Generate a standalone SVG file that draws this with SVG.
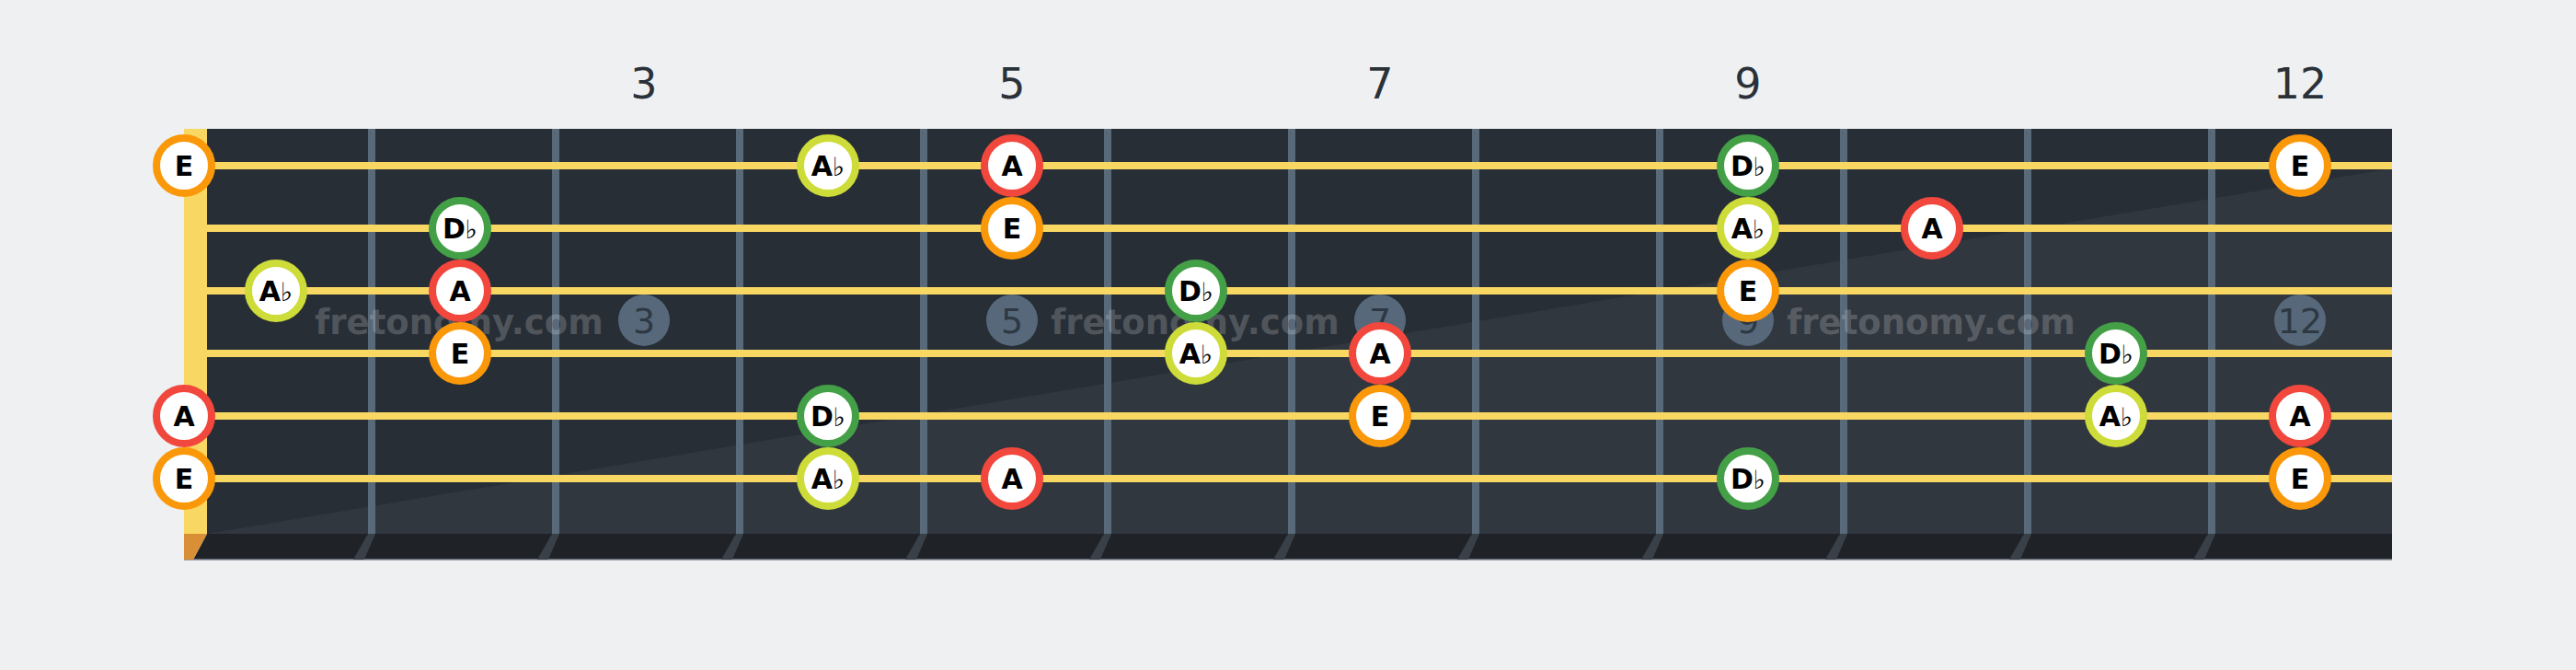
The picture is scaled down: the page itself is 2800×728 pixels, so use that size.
<svg xmlns="http://www.w3.org/2000/svg" width="2800" height="728" viewBox="0 0 2800 728">
<style>
.fnum{font-family:"DejaVu Sans","Liberation Sans",sans-serif;font-size:46px;fill:#2b3138;text-anchor:middle}
.fret{fill:#586a7a}
.fretb{fill:#3a4048}
.str{fill:#f8d862}
.inlay{fill:#56687a}
.inl{font-family:"DejaVu Sans","Liberation Sans",sans-serif;font-size:38px;fill:#2e3843;text-anchor:middle}
.wm{font-family:"DejaVu Sans","Liberation Sans",sans-serif;font-weight:bold;font-size:37px;fill:#ffffff;fill-opacity:0.2;text-anchor:middle}
.ring{fill:#ffffff;stroke-width:8}
.E{stroke:#fb980a}.A{stroke:#f1473d}.Db{stroke:#44a047}.Ab{stroke:#cddc39}
.lbl{font-family:"DejaVu Sans","Liberation Sans",sans-serif;font-weight:bold;font-size:30px;fill:#000;text-anchor:middle}
.fl{font-weight:normal;font-size:28px}
</style>
<defs>
<circle id="dot" r="30"/>
</defs>
<rect width="2800" height="728" fill="#eef0f2"/>
<g id="fret-numbers">
<text class="fnum" x="700" y="107">3</text>
<text class="fnum" x="1100" y="107">5</text>
<text class="fnum" x="1500" y="107">7</text>
<text class="fnum" x="1900" y="107">9</text>
<text class="fnum" x="2500" y="107">12</text>
</g>
<g id="fretboard">
<rect x="225" y="140" width="2375" height="440" fill="#272e36"/>
<polygon points="225,580 2600,183 2600,580" fill="#31373f"/>
<polygon points="225,580 2600,580 2600,608 210,608" fill="#1f2327"/>
<line x1="200" y1="608" x2="2600" y2="608" stroke="#7c8590" stroke-width="1.5"/>
<rect x="200" y="140" width="25" height="440" fill="#f8d862"/>
<polygon points="200,580 225,580 210,608 200,608" fill="#d98f35"/>
</g>
<g id="frets">
<rect class="fret" x="400" y="140" width="8" height="440"/><polygon class="fretb" points="400,580 408,580 396,608 384,608"/>
<rect class="fret" x="600" y="140" width="8" height="440"/><polygon class="fretb" points="600,580 608,580 596,608 584,608"/>
<rect class="fret" x="800" y="140" width="8" height="440"/><polygon class="fretb" points="800,580 808,580 796,608 784,608"/>
<rect class="fret" x="1000" y="140" width="8" height="440"/><polygon class="fretb" points="1000,580 1008,580 996,608 984,608"/>
<rect class="fret" x="1200" y="140" width="8" height="440"/><polygon class="fretb" points="1200,580 1208,580 1196,608 1184,608"/>
<rect class="fret" x="1400" y="140" width="8" height="440"/><polygon class="fretb" points="1400,580 1408,580 1396,608 1384,608"/>
<rect class="fret" x="1600" y="140" width="8" height="440"/><polygon class="fretb" points="1600,580 1608,580 1596,608 1584,608"/>
<rect class="fret" x="1800" y="140" width="8" height="440"/><polygon class="fretb" points="1800,580 1808,580 1796,608 1784,608"/>
<rect class="fret" x="2000" y="140" width="8" height="440"/><polygon class="fretb" points="2000,580 2008,580 1996,608 1984,608"/>
<rect class="fret" x="2200" y="140" width="8" height="440"/><polygon class="fretb" points="2200,580 2208,580 2196,608 2184,608"/>
<rect class="fret" x="2400" y="140" width="8" height="440"/><polygon class="fretb" points="2400,580 2408,580 2396,608 2384,608"/>
</g>
<g id="inlays">
<circle class="inlay" cx="700" cy="348" r="28"/><text class="inl" x="700" y="362">3</text>
<circle class="inlay" cx="1100" cy="348" r="28"/><text class="inl" x="1100" y="362">5</text>
<circle class="inlay" cx="1500" cy="348" r="28"/><text class="inl" x="1500" y="362">7</text>
<circle class="inlay" cx="1900" cy="348" r="28"/><text class="inl" x="1900" y="362">9</text>
<circle class="inlay" cx="2500" cy="348" r="28"/><text class="inl" x="2500" y="362">12</text>
</g>
<g id="watermarks">
<text class="wm" x="499" y="363">fretonomy.com</text>
<text class="wm" x="1299" y="363">fretonomy.com</text>
<text class="wm" x="2099" y="363">fretonomy.com</text>
</g>
<g id="strings">
<rect class="str" x="225" y="176" width="2375" height="8"/>
<rect class="str" x="225" y="244" width="2375" height="8"/>
<rect class="str" x="225" y="312" width="2375" height="8"/>
<rect class="str" x="225" y="380" width="2375" height="8"/>
<rect class="str" x="225" y="448" width="2375" height="8"/>
<rect class="str" x="225" y="516" width="2375" height="8"/>
</g>
<g id="notes">
<g id="n1-0"><use href="#dot" class="ring E" x="200" y="180"/><text class="lbl" x="200" y="191">E</text></g>
<g id="n1-4"><use href="#dot" class="ring Ab" x="900" y="180"/><text class="lbl" x="900" y="191">A<tspan class="fl">♭</tspan></text></g>
<g id="n1-5"><use href="#dot" class="ring A" x="1100" y="180"/><text class="lbl" x="1100" y="191">A</text></g>
<g id="n1-9"><use href="#dot" class="ring Db" x="1900" y="180"/><text class="lbl" x="1900" y="191">D<tspan class="fl">♭</tspan></text></g>
<g id="n1-12"><use href="#dot" class="ring E" x="2500" y="180"/><text class="lbl" x="2500" y="191">E</text></g>
<g id="n2-2"><use href="#dot" class="ring Db" x="500" y="248"/><text class="lbl" x="500" y="259">D<tspan class="fl">♭</tspan></text></g>
<g id="n2-5"><use href="#dot" class="ring E" x="1100" y="248"/><text class="lbl" x="1100" y="259">E</text></g>
<g id="n2-9"><use href="#dot" class="ring Ab" x="1900" y="248"/><text class="lbl" x="1900" y="259">A<tspan class="fl">♭</tspan></text></g>
<g id="n2-10"><use href="#dot" class="ring A" x="2100" y="248"/><text class="lbl" x="2100" y="259">A</text></g>
<g id="n3-1"><use href="#dot" class="ring Ab" x="300" y="316"/><text class="lbl" x="300" y="327">A<tspan class="fl">♭</tspan></text></g>
<g id="n3-2"><use href="#dot" class="ring A" x="500" y="316"/><text class="lbl" x="500" y="327">A</text></g>
<g id="n3-6"><use href="#dot" class="ring Db" x="1300" y="316"/><text class="lbl" x="1300" y="327">D<tspan class="fl">♭</tspan></text></g>
<g id="n3-9"><use href="#dot" class="ring E" x="1900" y="316"/><text class="lbl" x="1900" y="327">E</text></g>
<g id="n4-2"><use href="#dot" class="ring E" x="500" y="384"/><text class="lbl" x="500" y="395">E</text></g>
<g id="n4-6"><use href="#dot" class="ring Ab" x="1300" y="384"/><text class="lbl" x="1300" y="395">A<tspan class="fl">♭</tspan></text></g>
<g id="n4-7"><use href="#dot" class="ring A" x="1500" y="384"/><text class="lbl" x="1500" y="395">A</text></g>
<g id="n4-11"><use href="#dot" class="ring Db" x="2300" y="384"/><text class="lbl" x="2300" y="395">D<tspan class="fl">♭</tspan></text></g>
<g id="n5-0"><use href="#dot" class="ring A" x="200" y="452"/><text class="lbl" x="200" y="463">A</text></g>
<g id="n5-4"><use href="#dot" class="ring Db" x="900" y="452"/><text class="lbl" x="900" y="463">D<tspan class="fl">♭</tspan></text></g>
<g id="n5-7"><use href="#dot" class="ring E" x="1500" y="452"/><text class="lbl" x="1500" y="463">E</text></g>
<g id="n5-11"><use href="#dot" class="ring Ab" x="2300" y="452"/><text class="lbl" x="2300" y="463">A<tspan class="fl">♭</tspan></text></g>
<g id="n5-12"><use href="#dot" class="ring A" x="2500" y="452"/><text class="lbl" x="2500" y="463">A</text></g>
<g id="n6-0"><use href="#dot" class="ring E" x="200" y="520"/><text class="lbl" x="200" y="531">E</text></g>
<g id="n6-4"><use href="#dot" class="ring Ab" x="900" y="520"/><text class="lbl" x="900" y="531">A<tspan class="fl">♭</tspan></text></g>
<g id="n6-5"><use href="#dot" class="ring A" x="1100" y="520"/><text class="lbl" x="1100" y="531">A</text></g>
<g id="n6-9"><use href="#dot" class="ring Db" x="1900" y="520"/><text class="lbl" x="1900" y="531">D<tspan class="fl">♭</tspan></text></g>
<g id="n6-12"><use href="#dot" class="ring E" x="2500" y="520"/><text class="lbl" x="2500" y="531">E</text></g>
</g>
</svg>
